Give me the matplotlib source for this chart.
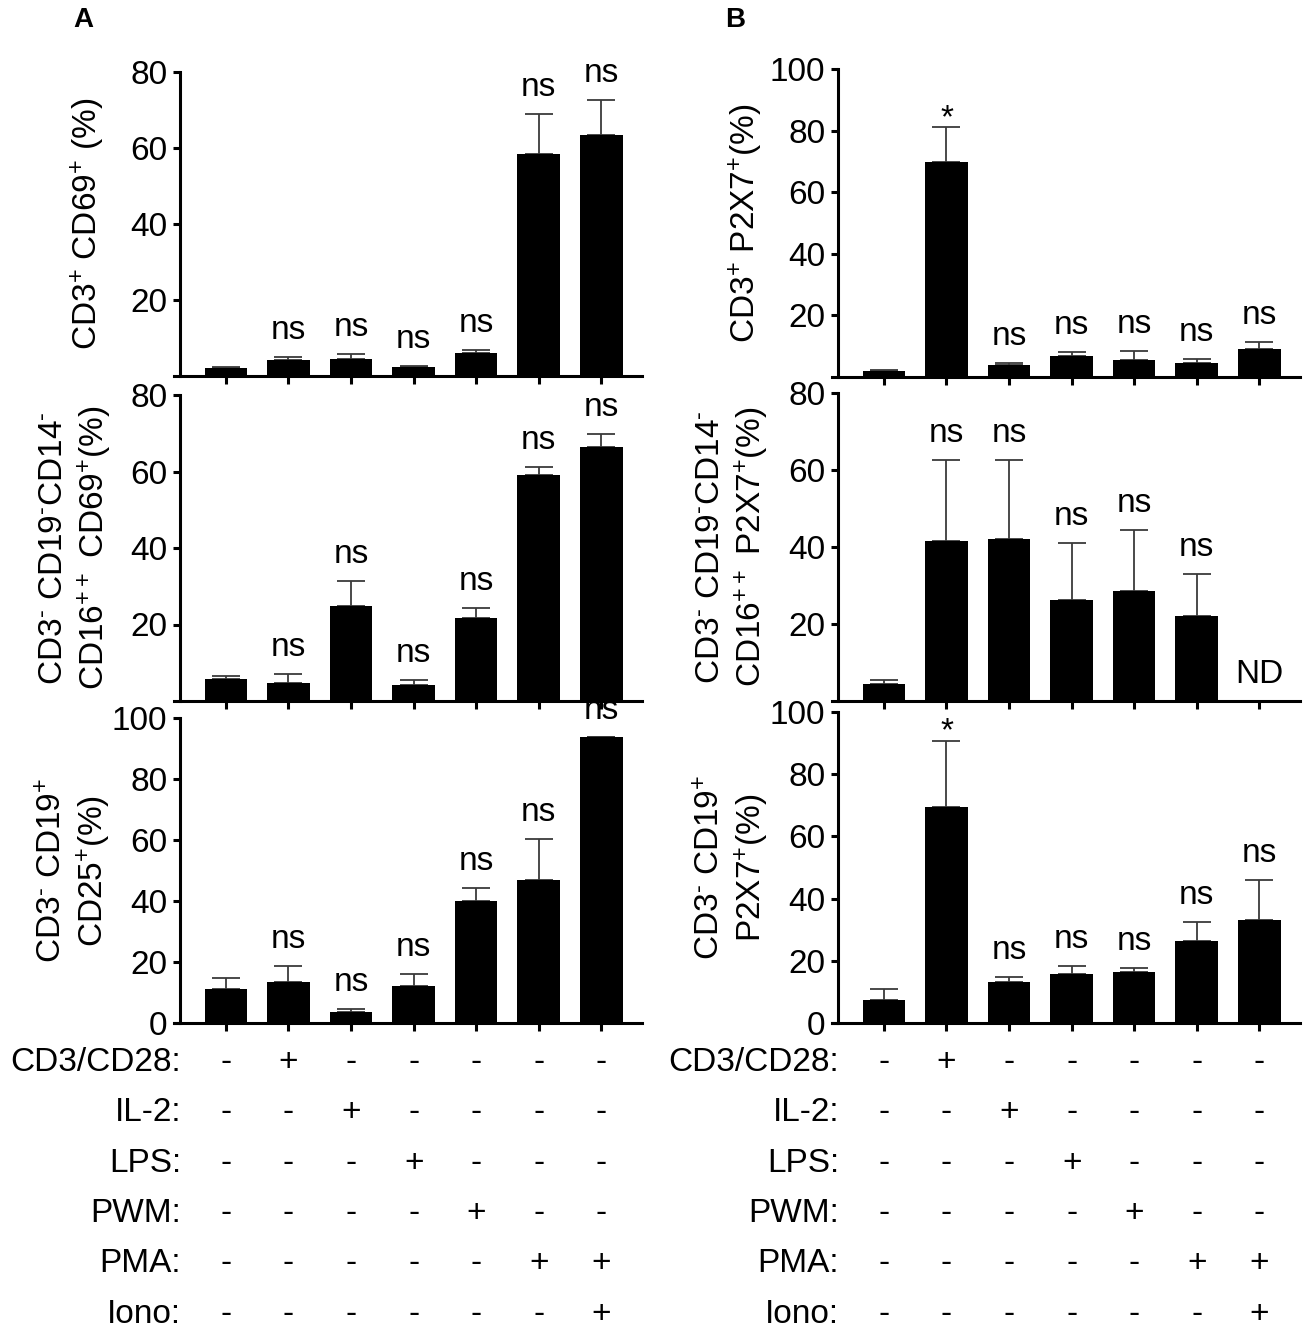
import numpy as np
import matplotlib.pyplot as plt

plt.rcParams['font.family'] = ['Liberation Sans', 'DejaVu Sans']
plt.rcParams['mathtext.fontset'] = 'custom'
plt.rcParams['mathtext.rm'] = 'Liberation Sans'
plt.rcParams['mathtext.default'] = 'regular'

# 数据：均值和 SEM
a1_mean = [2.1, 4.2, 4.5, 2.3, 6.1, 58.4, 63.5]
a1_sem = [0.3, 0.6, 1.3, 0.3, 0.7, 10.6, 9.1]
a1_sig = ['', 'ns', 'ns', 'ns', 'ns', 'ns', 'ns']

a2_mean = [5.7, 4.6, 24.8, 4.3, 21.7, 59.2, 66.5]
a2_sem = [0.9, 2.5, 6.5, 1.1, 2.7, 1.9, 3.3]
a2_sig = ['', 'ns', 'ns', 'ns', 'ns', 'ns', 'ns']

a3_mean = [11.1, 13.5, 3.7, 12.2, 39.9, 47.0, 93.7]
a3_sem = [3.7, 5.1, 1.1, 3.8, 4.5, 13.4, 0.0]
a3_sig = ['', 'ns', 'ns', 'ns', 'ns', 'ns', 'ns']

b1_mean = [2.0, 69.9, 3.9, 6.7, 5.4, 4.6, 8.9]
b1_sem = [0.3, 11.3, 0.45, 1.2, 2.9, 1.1, 2.3]
b1_sig = ['', '*', 'ns', 'ns', 'ns', 'ns', 'ns']

b2_mean = [4.3, 41.6, 42.2, 26.3, 28.5, 22.1, np.nan]
b2_sem = [1.2, 21.1, 20.4, 14.7, 15.9, 10.9, np.nan]
b2_sig = ['', 'ns', 'ns', 'ns', 'ns', 'ns', 'ND']

b3_mean = [7.6, 69.3, 13.2, 15.7, 16.6, 26.5, 33.2]
b3_sem = [3.5, 21.4, 1.6, 2.6, 1.1, 6.0, 12.9]
b3_sig = ['', '*', 'ns', 'ns', 'ns', 'ns', 'ns']

treatments = ['CD3/CD28:', 'IL-2:', 'LPS:', 'PWM:', 'PMA:', 'Iono:']
conditions = [
    ['-', '+', '-', '-', '-', '-', '-'],
    ['-', '-', '+', '-', '-', '-', '-'],
    ['-', '-', '-', '+', '-', '-', '-'],
    ['-', '-', '-', '-', '+', '-', '-'],
    ['-', '-', '-', '-', '-', '+', '+'],
    ['-', '-', '-', '-', '-', '-', '+'],
]

W, H = 1304, 1328
FS = 24
SPINE_X = -0.74
NEG = r'$^{\text{-}}$'
POS = r'$^{+}$'


def add_axes(left, right, ytop, ybot):
    return fig.add_axes([left / W, 1 - ybot / H, (right - left) / W, (ybot - ytop) / H])


def draw_panel(ax, means, sems, sig, ymax, yticks, ylabel, label_px, left_px):
    x = np.arange(len(means))
    means = np.array(means, dtype=float)
    sems = np.array(sems, dtype=float)
    ax.bar(x, means, width=0.68, color='black', zorder=2)
    ax.errorbar(x, means, yerr=[np.zeros(len(x)), sems], fmt='none',
                ecolor='#3a3a3a', elinewidth=1.3, capsize=10, capthick=1.3, zorder=1)
    for xi, m, s, t in zip(x, means, sems, sig):
        if not t:
            continue
        top = 0 if np.isnan(m) else m + s
        off = 0 if t == '*' else 13
        ax.annotate(t, (xi, top), xytext=(0, off), textcoords='offset points',
                    ha='center', va='baseline', fontsize=FS, annotation_clip=False)

    ax.set_xlim(-0.83, 6.65)
    ax.set_ylim(0, ymax)
    ax.set_xticks(x)
    ax.set_xticklabels([])
    ax.set_yticks(yticks)
    ax.spines['top'].set_visible(False)
    ax.spines['right'].set_visible(False)
    ax.spines['left'].set_position(('data', SPINE_X))
    for sp in ['left', 'bottom']:
        ax.spines[sp].set_linewidth(2.2)
    ax.tick_params(axis='y', direction='out', length=5, width=2.2, labelsize=FS, pad=4)
    ax.tick_params(axis='x', direction='out', length=6, width=2.2)
    ax.set_ylabel(ylabel, fontsize=FS, va='center', linespacing=1.25)
    width_px = 468
    ax.yaxis.set_label_coords((label_px - left_px) / width_px, 0.5)


def draw_table(ax):
    for i, (name, row) in enumerate(zip(treatments, conditions)):
        dy = -(39 + 50.4 * i) * 0.72
        ax.annotate(name, (SPINE_X + 0.02, 0), xycoords=('data', 'axes fraction'),
                    xytext=(0, dy), textcoords='offset points',
                    ha='right', va='center', fontsize=FS, annotation_clip=False)
        for xi, sign in enumerate(row):
            ax.annotate(sign, (xi, 0), xycoords=('data', 'axes fraction'),
                        xytext=(0, dy), textcoords='offset points',
                        ha='center', va='center', fontsize=FS, annotation_clip=False)


fig = plt.figure(figsize=(W / 100, H / 100), dpi=100)

A_L, A_R = 174, 642
B_L, B_R = 832, 1300

ax_a1 = add_axes(A_L, A_R, 72.3, 375.7)
ax_a2 = add_axes(A_L, A_R, 395, 701)
ax_a3 = add_axes(A_L, A_R, 717.7, 1023.3)
ax_b1 = add_axes(B_L, B_R, 69, 376.7)
ax_b2 = add_axes(B_L, B_R, 393.3, 701)
ax_b3 = add_axes(B_L, B_R, 711.7, 1023.3)

draw_panel(ax_a1, a1_mean, a1_sem, a1_sig, 80, [20, 40, 60, 80],
           f'CD3{POS} CD69{POS} (%)', 88, A_L)
draw_panel(ax_a2, a2_mean, a2_sem, a2_sig, 80, [20, 40, 60, 80],
           f'CD3{NEG} CD19{NEG}CD14{NEG}\nCD16$^{{++}}$ CD69{POS}(%)', 76, A_L)
draw_panel(ax_a3, a3_mean, a3_sem, a3_sig, 100, [0, 20, 40, 60, 80, 100],
           f'CD3{NEG} CD19{POS}\nCD25{POS}(%)', 75, A_L)
draw_panel(ax_b1, b1_mean, b1_sem, b1_sig, 100, [20, 40, 60, 80, 100],
           f'CD3{POS} P2X7{POS}(%)', 746, B_L)
draw_panel(ax_b2, b2_mean, b2_sem, b2_sig, 80, [20, 40, 60, 80],
           f'CD3{NEG} CD19{NEG}CD14{NEG}\nCD16$^{{++}}$ P2X7{POS}(%)', 733, B_L)
draw_panel(ax_b3, b3_mean, b3_sem, b3_sig, 100, [0, 20, 40, 60, 80, 100],
           f'CD3{NEG} CD19{POS}\nP2X7{POS}(%)', 733, B_L)

draw_table(ax_a3)
draw_table(ax_b3)

fig.text(83 / W, 1 - 20 / H, 'A', fontsize=20, fontweight='bold', ha='center', va='center')
fig.text(735 / W, 1 - 20 / H, 'B', fontsize=20, fontweight='bold', ha='center', va='center')

fig.savefig('out.png', dpi=100)
